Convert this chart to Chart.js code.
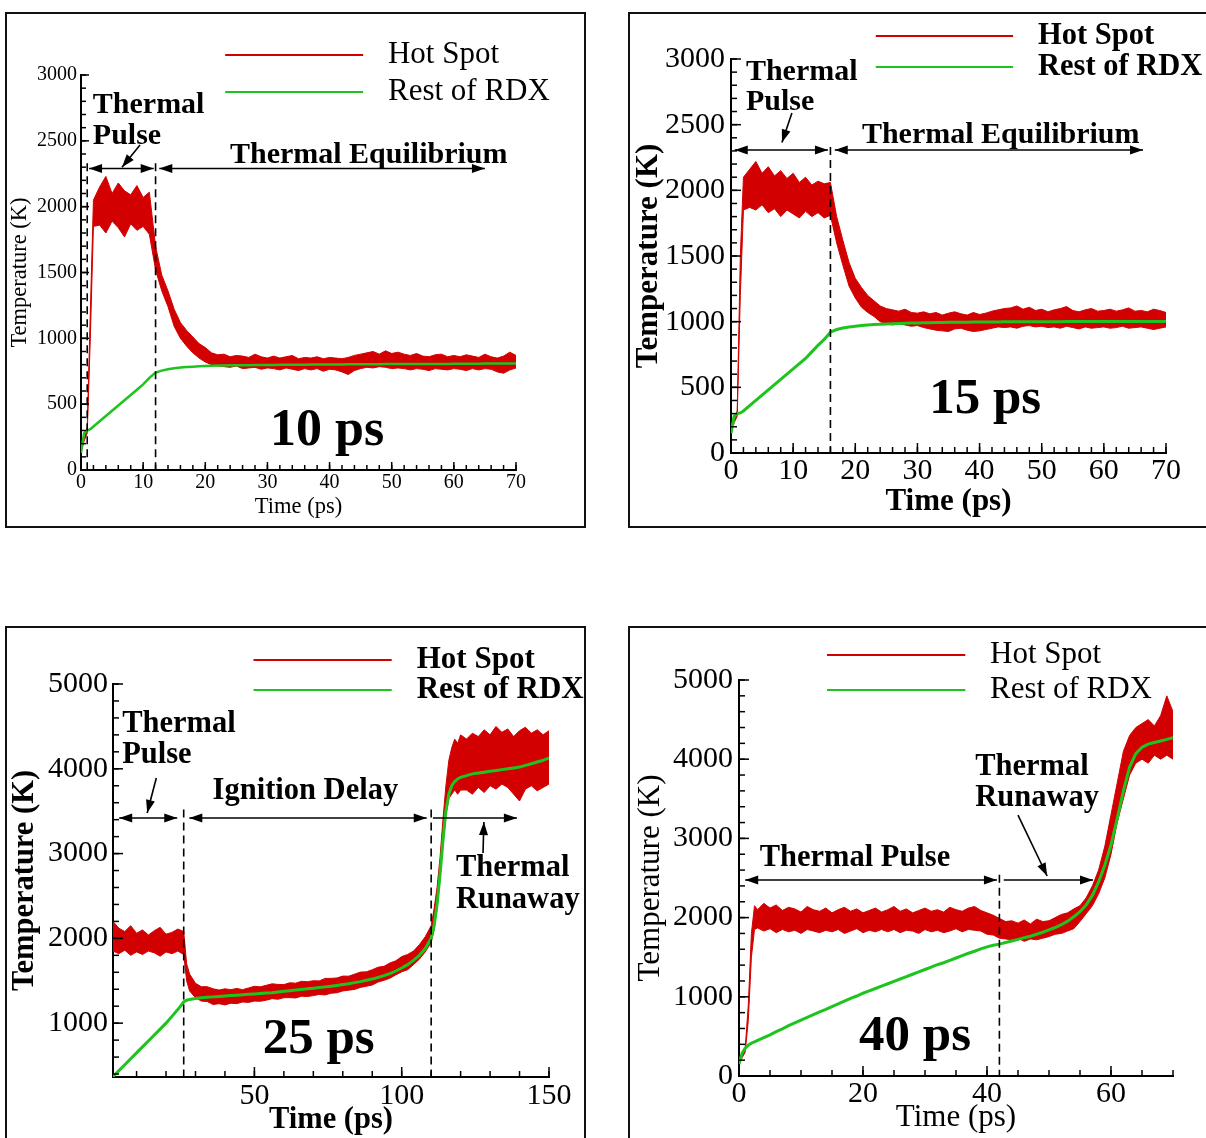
<!DOCTYPE html>
<html>
<head>
<meta charset="utf-8">
<script src="https://cdn.jsdelivr.net/npm/chart.js@4.4.1/dist/chart.umd.min.js"></script>
<style>
  html, body { margin: 0; padding: 0; background: #fff; }
  body { width: 1206px; height: 1138px; overflow: hidden; position: relative; }
  .panel { position: absolute; border: 2px solid #111; }
  canvas { display: block; }
</style>
</head>
<body>
<div class="panel" style="left:5px;top:12px;width:577px;height:512px"><canvas id="c1" width="577" height="512"></canvas></div>
<div class="panel" style="left:628px;top:12px;width:590px;height:512px"><canvas id="c2" width="590" height="512"></canvas></div>
<div class="panel" style="left:5px;top:626px;width:577px;height:520px"><canvas id="c3" width="577" height="510"></canvas></div>
<div class="panel" style="left:628px;top:626px;width:590px;height:520px"><canvas id="c4" width="590" height="510"></canvas></div>
<script>
const FONT = "'Liberation Serif', 'Times New Roman', serif";
const RED = "#d20000";
const GREEN = "#1ec41e";

// ---- 10 ps pulse ----
const time1 = [0, 0.5, 1, 1.5, 2, 3, 4, 5, 6, 7, 8, 9, 10, 11, 12, 13, 14, 15, 16, 17, 18, 19, 20,
  21, 22, 23, 24, 25, 26, 27, 28, 29, 30, 31, 32, 33, 34, 35, 36, 37, 38, 39, 40,
  41, 42, 43, 44, 45, 46, 47, 48, 49, 50, 51, 52, 53, 54, 55, 56, 57, 58, 59, 60,
  61, 62, 63, 64, 65, 66, 67, 68, 69, 70];
const hotHi1 = [150, 250, 320, 1200, 2050,
  2150, 2230, 2100, 2180, 2120, 2090, 2160, 2070, 2110,
  1700, 1480, 1360, 1220, 1120, 1060, 1010, 960, 930,
  890, 875, 880, 860, 870, 865, 855, 880, 860, 850,
  865, 850, 860, 870, 845, 855, 850, 860, 845, 855,
  850, 845, 855, 870, 880, 890, 900, 880, 905, 885,
  895, 880, 870, 885, 865, 860, 875, 880, 860, 870,
  860, 875, 865, 855, 880, 860, 850, 865, 895, 870];
const hotLo1 = [130, 220, 280, 1000, 1850,
  1860, 1800, 1890, 1840, 1770, 1870, 1820, 1850, 1790,
  1520, 1360, 1240, 1090, 1000, 940, 890, 850, 820,
  800, 790, 785, 780, 790, 770, 775, 780, 765, 775,
  770, 760, 775, 765, 755, 770, 760, 770, 750, 765,
  760, 745, 725, 755, 770, 780, 775, 785, 780, 770,
  775, 770, 760, 770, 765, 755, 770, 765, 760, 770,
  765, 755, 770, 760, 770, 765, 745, 735, 760, 775];
const rest1 = [130, 280, 300, 310, 330,
  370, 410, 450, 490, 530, 570, 610, 650, 700,
  740, 755, 765, 772, 778, 782, 785, 788, 790,
  792, 793, 794, 795, 795, 796, 796, 797, 797, 798,
  798, 799, 799, 800, 800, 800, 801, 801, 801, 802,
  802, 802, 803, 803, 803, 804, 804, 804, 805, 805,
  805, 805, 805, 806, 806, 806, 806, 806, 806, 807,
  807, 807, 807, 807, 808, 808, 808, 808, 808, 808];

// ---- 15 ps pulse ----
const time2 = time1.slice();
const hotHi2 = [200, 270, 320, 1500, 2100,
  2160, 2220, 2130, 2180, 2110, 2150, 2090, 2130, 2060,
  2100, 2040, 2070, 2050, 2060, 1800, 1620, 1450, 1330,
  1260, 1200, 1160, 1120, 1100, 1090, 1080, 1095, 1070, 1065,
  1075, 1060, 1070, 1050, 1065, 1075, 1060, 1050, 1070, 1055,
  1065, 1080, 1090, 1100, 1105, 1120, 1095, 1110, 1085, 1095,
  1075, 1090, 1100, 1115, 1085, 1075, 1090, 1100, 1080, 1085,
  1095, 1080, 1090, 1105, 1080, 1085, 1075, 1095, 1085, 1070];
const hotLo2 = [150, 230, 280, 1200, 1850,
  1870, 1850, 1890, 1830, 1860, 1800, 1850, 1820, 1790,
  1840, 1800, 1830, 1790, 1810, 1600, 1430, 1270, 1180,
  1110, 1070, 1040, 1000, 985, 975, 985, 975, 965, 970,
  955, 945, 935, 930, 925, 945, 950, 935, 925, 930,
  940, 950, 960, 955, 960, 950, 965, 970, 960, 965,
  955, 960, 950, 965, 955, 945, 960, 950, 955, 960,
  950, 955, 965, 950, 955, 960, 950, 940, 950, 960];
const rest2 = [150, 280, 300, 305, 320,
  360, 400, 440, 480, 520, 560, 600, 640, 680,
  720, 770, 820, 865, 920, 940, 952, 960, 965,
  970, 975, 978, 980, 982, 984, 986, 988, 989, 990,
  991, 992, 993, 994, 995, 995, 996, 996, 997, 997,
  998, 998, 998, 999, 999, 999, 1000, 1000, 1000, 1000,
  1000, 1000, 1000, 1001, 1001, 1001, 1001, 1001, 1001, 1001,
  1002, 1002, 1002, 1002, 1002, 1002, 1002, 1002, 1002, 1002];

// ---- 25 ps pulse ----
const time3 = [2, 4, 6, 8, 10, 12, 14, 16, 18, 20, 22, 24, 26, 27, 28,
  30, 32, 34, 36, 38, 40, 42, 44, 46, 48, 50, 52, 54, 56, 58, 60, 62, 64, 66, 68, 70,
  72, 74, 76, 78, 80, 82, 84, 86, 88, 90, 92, 94, 96, 98, 100, 102, 104, 106, 108, 110,
  111, 112, 113, 114, 115, 116, 117, 118, 119, 120,
  122, 124, 126, 128, 130, 132, 134, 136, 138, 140, 142, 144, 146, 148, 150];
const hotHi3 = [2200, 2120, 2080, 2150, 2060, 2100, 2040, 2090, 2130, 2050, 2070, 2110, 2080, 1700, 1580,
  1470, 1430, 1430, 1405, 1390, 1405, 1395, 1410, 1395, 1415, 1435, 1428, 1446, 1464, 1457, 1455, 1476, 1472, 1493, 1489, 1500,
  1498, 1528, 1528, 1533, 1555, 1554, 1578, 1602, 1605, 1630, 1660, 1670, 1710, 1735, 1785, 1810, 1850, 1925, 2020, 2150,
  2350, 2600, 2950, 3400, 3800, 4100, 4250, 4350, 4300, 4400,
  4350, 4420, 4380, 4460, 4400, 4500, 4430, 4470, 4380, 4450, 4490, 4420, 4460, 4400, 4450];
const hotLo3 = [1850, 1820, 1860, 1800, 1840, 1810, 1850, 1830, 1790, 1840, 1820, 1850, 1810, 1500, 1380,
  1300, 1260, 1255, 1220, 1230, 1215, 1235, 1230, 1250, 1245, 1260, 1258, 1271, 1289, 1282, 1300, 1301, 1297, 1318, 1314, 1325,
  1338, 1333, 1353, 1358, 1380, 1389, 1398, 1422, 1435, 1450, 1485, 1505, 1530, 1570, 1605, 1630, 1690, 1755, 1840, 1950,
  2100, 2350, 2700, 3100, 3450, 3650, 3700, 3750, 3700, 3750,
  3750, 3700, 3780, 3720, 3800, 3760, 3820, 3780, 3700, 3620, 3760, 3800, 3740, 3780, 3820];
const rest3 = [370, 440, 510, 580, 650, 720, 790, 860, 930, 1000, 1080, 1160, 1250, 1270, 1280,
  1290, 1300, 1305, 1310, 1315, 1320, 1325, 1330, 1335, 1340, 1345, 1350, 1355, 1360, 1368, 1375, 1382, 1390, 1398, 1405, 1412,
  1420, 1428, 1436, 1445, 1455, 1465, 1478, 1490, 1505, 1520, 1540, 1560, 1585, 1615, 1650, 1690, 1740, 1800, 1880, 2000,
  2150, 2400, 2750, 3150, 3500, 3700, 3800, 3850, 3880, 3900,
  3920, 3940, 3950, 3960, 3970, 3980, 3990, 4000, 4010, 4020, 4040, 4060, 4080, 4100, 4130];

// ---- 40 ps pulse ----
const time4 = [0, 0.5, 1, 1.5, 2, 2.5, 3,
  4, 5, 6, 7, 8, 9, 10, 11, 12, 13, 14, 15, 16, 17, 18, 19, 20, 21, 22, 23,
  24, 25, 26, 27, 28, 29, 30, 31, 32, 33, 34, 35, 36, 37, 38, 39, 40, 41, 42, 43,
  44, 45, 46, 47, 48, 49, 50, 51, 52, 53, 54, 55, 56, 57, 58, 59, 60, 61, 62, 63,
  64, 65, 66, 67, 68, 69, 70];
const hotHi4 = [200, 280, 350, 900, 1800, 2150, 2100,
  2180, 2120, 2160, 2090, 2130, 2110, 2070, 2140, 2100, 2080,
  2120, 2060, 2100, 2130, 2080, 2110, 2060, 2090, 2120, 2070,
  2100, 2140, 2080, 2110, 2060, 2090, 2120, 2080, 2100, 2070,
  2130, 2100, 2080, 2120, 2140, 2090, 2060, 2030, 1990, 1950,
  1960, 1930, 1970, 1920, 1980, 1950, 1960, 2000, 2040, 2060,
  2110, 2150, 2250, 2400, 2600, 2900, 3300, 3700, 4100, 4300,
  4400, 4450, 4500, 4420, 4550, 4800, 4600];
const hotLo4 = [150, 230, 300, 700, 1500, 1850, 1870,
  1830, 1860, 1810, 1850, 1820, 1840, 1800, 1850, 1830, 1810,
  1840, 1820, 1850, 1800, 1830, 1860, 1810, 1840, 1820, 1850,
  1820, 1850, 1810, 1840, 1830, 1800, 1850, 1820, 1840, 1810,
  1830, 1860, 1820, 1850, 1840, 1830, 1790, 1780, 1740, 1730,
  1720, 1740, 1700, 1730, 1720, 1740, 1760, 1790, 1800, 1830,
  1860, 1950, 2050, 2150, 2300, 2500, 2800, 3200, 3500, 3800,
  3950, 4000, 3950, 4050, 4000, 4050, 4000];
const rest4 = [150, 290, 350, 390, 415, 430, 450,
  485, 520, 560, 595, 635, 670, 705, 740, 775, 810,
  840, 875, 910, 945, 980, 1010, 1045, 1075, 1105, 1135,
  1165, 1195, 1225, 1255, 1285, 1315, 1345, 1375, 1405, 1430,
  1460, 1490, 1520, 1550, 1575, 1605, 1630, 1650, 1665, 1685,
  1705, 1725, 1745, 1765, 1790, 1815, 1845, 1875, 1910, 1955,
  2010, 2075, 2160, 2280, 2450, 2660, 2920, 3250, 3600, 3900,
  4070, 4150, 4190, 4210, 4230, 4250, 4270];

// annotations, in data units of each panel
const notes1 = [
  { type: "dash", x: 1, y1: 2330, y2: 0 },
  { type: "dash", x: 12, y1: 2330, y2: 0 },
  { type: "arrow", x1: 1.3, y1: 2290, x2: 11.7, y2: 2290, a: true, b: true },
  { type: "arrow", x1: 12.6, y1: 2290, x2: 65, y2: 2290, a: true, b: true },
  { type: "arrow", x1: 9.5, y1: 2468, x2: 6.6, y2: 2300, b: true },
  { type: "text", text: "Thermal", x: 1.9, y: 2772, size: 30, bold: true, align: "left" },
  { type: "text", text: "Pulse", x: 1.9, y: 2537, size: 30, bold: true, align: "left" },
  { type: "text", text: "Thermal Equilibrium", x: 46.3, y: 2392, size: 30, bold: true, align: "center" },
  { type: "text", text: "10 ps", x: 39.6, y: 289, size: 52, bold: true, align: "center" },
  { type: "key", x1: 23.2, x2: 45.4, y: 3152, color: RED, text: "Hot Spot", tx: 49.4, size: 31, bold: false },
  { type: "key", x1: 23.2, x2: 45.4, y: 2871, color: GREEN, text: "Rest of RDX", tx: 49.4, size: 31, bold: false },
];
const notes2 = [
  { type: "dash", x: 16, y1: 2330, y2: 0 },
  { type: "arrow", x1: 0.6, y1: 2307, x2: 15.6, y2: 2307, a: true, b: true },
  { type: "arrow", x1: 16.7, y1: 2307, x2: 66.3, y2: 2307, a: true, b: true },
  { type: "arrow", x1: 9.8, y1: 2589, x2: 8.2, y2: 2365, b: true },
  { type: "text", text: "Thermal", x: 2.4, y: 2901, size: 30, bold: true, align: "left" },
  { type: "text", text: "Pulse", x: 2.4, y: 2673, size: 30, bold: true, align: "left" },
  { type: "text", text: "Thermal Equilibrium", x: 43.4, y: 2421, size: 30, bold: true, align: "center" },
  { type: "text", text: "15 ps", x: 40.9, y: 404, size: 51, bold: true, align: "center" },
  { type: "key", x1: 23.3, x2: 45.4, y: 3175, color: RED, text: "Hot Spot", tx: 49.4, size: 30.5, bold: true },
  { type: "key", x1: 23.3, x2: 45.4, y: 2939, color: GREEN, text: "Rest of RDX", tx: 49.4, size: 30.5, bold: true },
];
const notes3 = [
  { type: "dash", x: 26, y1: 3520, y2: 365 },
  { type: "dash", x: 110, y1: 3520, y2: 365 },
  { type: "arrow", x1: 4.1, y1: 3419, x2: 23.8, y2: 3419, a: true, b: true },
  { type: "arrow", x1: 27.9, y1: 3419, x2: 108.5, y2: 3419, a: true, b: true },
  { type: "arrow", x1: 110.6, y1: 3419, x2: 139.1, y2: 3419, b: true },
  { type: "arrow", x1: 16.7, y1: 3891, x2: 13.6, y2: 3478, b: true },
  { type: "arrow", x1: 127.6, y1: 3006, x2: 127.9, y2: 3372, b: true },
  { type: "text", text: "Thermal", x: 5.1, y: 4528, size: 30.5, bold: true, align: "left" },
  { type: "text", text: "Pulse", x: 5.1, y: 4162, size: 30.5, bold: true, align: "left" },
  { type: "text", text: "Ignition Delay", x: 67.3, y: 3738, size: 30.5, bold: true, align: "center" },
  { type: "text", text: "Thermal", x: 118.4, y: 2829, size: 30.5, bold: true, align: "left" },
  { type: "text", text: "Runaway", x: 118.4, y: 2451, size: 30.5, bold: true, align: "left" },
  { type: "text", text: "25 ps", x: 71.8, y: 800, size: 51, bold: true, align: "center" },
  { type: "key", x1: 49.7, x2: 96.6, y: 5283, color: RED, text: "Hot Spot", tx: 105.1, size: 31, bold: true },
  { type: "key", x1: 49.7, x2: 96.6, y: 4929, color: GREEN, text: "Rest of RDX", tx: 105.1, size: 31, bold: true },
];
const notes4 = [
  { type: "dash", x: 42, y1: 2540, y2: 0 },
  { type: "arrow", x1: 1.0, y1: 2475, x2: 41.6, y2: 2475, a: true, b: true },
  { type: "arrow", x1: 42.7, y1: 2475, x2: 57.1, y2: 2475, b: true },
  { type: "arrow", x1: 45, y1: 3295, x2: 49.7, y2: 2525, b: true },
  { type: "text", text: "Thermal Pulse", x: 18.7, y: 2753, size: 30.5, bold: true, align: "center" },
  { type: "text", text: "Thermal", x: 38.1, y: 3902, size: 30.5, bold: true, align: "left" },
  { type: "text", text: "Runaway", x: 38.1, y: 3510, size: 30.5, bold: true, align: "left" },
  { type: "text", text: "40 ps", x: 28.4, y: 492, size: 51, bold: true, align: "center" },
  { type: "key", x1: 14.2, x2: 36.5, y: 5316, color: RED, text: "Hot Spot", tx: 40.5, size: 31, bold: false },
  { type: "key", x1: 14.2, x2: 36.5, y: 4874, color: GREEN, text: "Rest of RDX", tx: 40.5, size: 31, bold: false },
];

// ticks drawn inside the axes, major and minor
const insideTicks = {
  id: "insideTicks",
  afterDatasetsDraw(chart, args, o) {
    const { ctx, chartArea: a, scales: { x, y } } = chart;
    ctx.save();
    ctx.strokeStyle = "#000";
    ctx.lineWidth = 1.5;
    const run = (scale, step, len, horiz) => {
      let v = Math.ceil(scale.min / step) * step;
      for (; v <= scale.max + 1e-6; v += step) {
        const p = scale.getPixelForValue(v);
        ctx.beginPath();
        if (horiz) { ctx.moveTo(p, a.bottom); ctx.lineTo(p, a.bottom - len); }
        else { ctx.moveTo(a.left, p); ctx.lineTo(a.left + len, p); }
        ctx.stroke();
      }
    };
    run(x, o.xMinor, o.minLen, true);
    run(x, o.xMajor, o.majLen, true);
    run(y, o.yMinor, o.minLen, false);
    run(y, o.yMajor, o.majLen, false);
    ctx.restore();
  },
};

const arrowHead = (ctx, fx, fy, tx, ty) => {
  const ang = Math.atan2(ty - fy, tx - fx);
  const L = 13, W = 4.5;
  ctx.beginPath();
  ctx.moveTo(tx, ty);
  ctx.lineTo(tx - L * Math.cos(ang) + W * Math.sin(ang), ty - L * Math.sin(ang) - W * Math.cos(ang));
  ctx.lineTo(tx - L * Math.cos(ang) - W * Math.sin(ang), ty - L * Math.sin(ang) + W * Math.cos(ang));
  ctx.closePath();
  ctx.fill();
};

const notesPlugin = {
  id: "notes",
  afterDraw(chart, args, o) {
    const { ctx, scales: { x, y } } = chart;
    const px = (v) => x.getPixelForValue(v);
    const py = (v) => y.getPixelForValue(v);
    ctx.save();
    ctx.fillStyle = "#000";
    ctx.strokeStyle = "#000";
    (o.items || []).forEach((n) => {
      if (n.type === "dash") {
        ctx.lineWidth = 1.6;
        ctx.setLineDash([8, 5]);
        ctx.beginPath();
        ctx.moveTo(px(n.x), py(n.y1));
        ctx.lineTo(px(n.x), py(n.y2));
        ctx.stroke();
        ctx.setLineDash([]);
      } else if (n.type === "arrow") {
        const x1 = px(n.x1), y1 = py(n.y1), x2 = px(n.x2), y2 = py(n.y2);
        ctx.lineWidth = 1.6;
        ctx.beginPath();
        ctx.moveTo(x1, y1);
        ctx.lineTo(x2, y2);
        ctx.stroke();
        if (n.a) arrowHead(ctx, x2, y2, x1, y1);
        if (n.b) arrowHead(ctx, x1, y1, x2, y2);
      } else if (n.type === "text") {
        ctx.font = `${n.bold ? "bold " : ""}${n.size}px ${FONT}`;
        ctx.textAlign = n.align;
        ctx.textBaseline = "middle";
        ctx.fillText(n.text, px(n.x), py(n.y));
      } else if (n.type === "key") {
        ctx.strokeStyle = n.color;
        ctx.lineWidth = 2;
        ctx.beginPath();
        ctx.moveTo(px(n.x1), py(n.y));
        ctx.lineTo(px(n.x2), py(n.y));
        ctx.stroke();
        ctx.strokeStyle = "#000";
        ctx.font = `${n.bold ? "bold " : ""}${n.size}px ${FONT}`;
        ctx.textAlign = "left";
        ctx.textBaseline = "middle";
        ctx.fillText(n.text, px(n.tx), py(n.y));
      }
    });
    ctx.restore();
  },
};

const pts = (xs, ys) => xs.map((x, i) => ({ x, y: ys[i] }));

function buildPanel(id, p) {
  // only round multiples of the step get a label
  const onStep = (step) => (scale) => {
    const out = [];
    for (let v = Math.ceil(scale.min / step - 1e-9) * step; v <= scale.max + 1e-9; v += step) {
      out.push({ value: v });
    }
    scale.ticks = out;
  };
  const tickFont = { family: FONT, size: p.tickSize };
  const titleFont = { family: FONT, size: p.titleSize, weight: p.titleBold ? "bold" : "normal" };
  const plain = (v) => String(v);

  return new Chart(document.getElementById(id), {
    type: "line",
    data: {
      datasets: [
        { label: "Hot Spot", data: pts(p.t, p.lo), borderColor: RED, borderWidth: 1, pointRadius: 0, fill: false },
        { label: "Hot Spot band", data: pts(p.t, p.hi), borderColor: RED, borderWidth: 1, pointRadius: 0, fill: "-1", backgroundColor: RED },
        { label: "Rest of RDX", data: pts(p.t, p.rest), borderColor: GREEN, borderWidth: p.gw, pointRadius: 0, fill: false, order: -1 },
      ],
    },
    options: {
      responsive: false,
      animation: false,
      devicePixelRatio: 1,
      layout: { padding: { top: p.padTop, right: p.padRight, left: 0, bottom: 0 } },
      plugins: {
        legend: { display: false },
        tooltip: { enabled: false },
        insideTicks: { xMajor: p.xStep, xMinor: p.xMinor, yMajor: p.yStep, yMinor: p.yMinor, majLen: p.majLen, minLen: p.minLen },
        notes: { items: p.notes },
      },
      scales: {
        x: {
          type: "linear",
          min: p.xMin,
          max: p.xMax,
          grid: { display: false, drawTicks: false },
          border: { display: true, color: "#000", width: 2 },
          ticks: { stepSize: p.xStep, font: tickFont, color: "#000", padding: p.xPad, autoSkip: false, maxRotation: 0, callback: plain },
          title: { display: true, text: "Time (ps)", font: titleFont, color: "#000", padding: { top: 0, bottom: p.xTitlePad } },
          afterBuildTicks: onStep(p.xStep),
          afterFit: (s) => { s.height = p.xh; },
        },
        y: {
          type: "linear",
          min: p.yMin,
          max: p.yMax,
          grid: { display: false, drawTicks: false },
          border: { display: true, color: "#000", width: 2 },
          ticks: { stepSize: p.yStep, font: tickFont, color: "#000", padding: p.yPad, autoSkip: false, callback: plain },
          title: { display: true, text: "Temperature (K)", font: titleFont, color: "#000", padding: { top: p.yTitlePad, bottom: 0 } },
          afterBuildTicks: onStep(p.yStep),
          afterFit: (s) => { s.width = p.yw; },
        },
      },
    },
    plugins: [insideTicks, notesPlugin],
  });
}

buildPanel("c1", {
  t: time1, hi: hotHi1, lo: hotLo1, rest: rest1, notes: notes1, gw: 2.5,
  xMin: 0, xMax: 70, xStep: 10, xMinor: 2, yMin: 0, yMax: 3000, yStep: 500, yMinor: 100,
  padTop: 61, padRight: 68, yw: 74, xh: 56, majLen: 8, minLen: 5,
  tickSize: 20, titleSize: 22.5, titleBold: false, xPad: 1, yPad: 4, xTitlePad: 5, yTitlePad: 0,
});
buildPanel("c2", {
  t: time2, hi: hotHi2, lo: hotLo2, rest: rest2, notes: notes2, gw: 3,
  xMin: 0, xMax: 70, xStep: 10, xMinor: 2, yMin: 0, yMax: 3000, yStep: 500, yMinor: 100,
  padTop: 45, padRight: 54, yw: 101, xh: 73, majLen: 10, minLen: 6,
  tickSize: 30, titleSize: 31, titleBold: true, xPad: 0, yPad: 6, xTitlePad: 5, yTitlePad: 0,
});
buildPanel("c3", {
  t: time3, hi: hotHi3, lo: hotLo3, rest: rest3, notes: notes3, gw: 3,
  xMin: 2, xMax: 150, xStep: 50, xMinor: 10, yMin: 365, yMax: 5000, yStep: 1000, yMinor: 200,
  padTop: 56, padRight: 35, yw: 106, xh: 61, majLen: 10, minLen: 6,
  tickSize: 30, titleSize: 30.5, titleBold: true, xPad: 1, yPad: 5, xTitlePad: 0, yTitlePad: 0,
});
buildPanel("c4", {
  t: time4, hi: hotHi4, lo: hotLo4, rest: rest4, notes: notes4, gw: 3,
  xMin: 0, xMax: 70, xStep: 20, xMinor: 5, yMin: 0, yMax: 5000, yStep: 1000, yMinor: 200,
  padTop: 52, padRight: 47, yw: 109, xh: 62, majLen: 10, minLen: 6,
  tickSize: 30, titleSize: 31, titleBold: false, xPad: 0, yPad: 6, xTitlePad: 2, yTitlePad: 2,
});
</script>
</body>
</html>
